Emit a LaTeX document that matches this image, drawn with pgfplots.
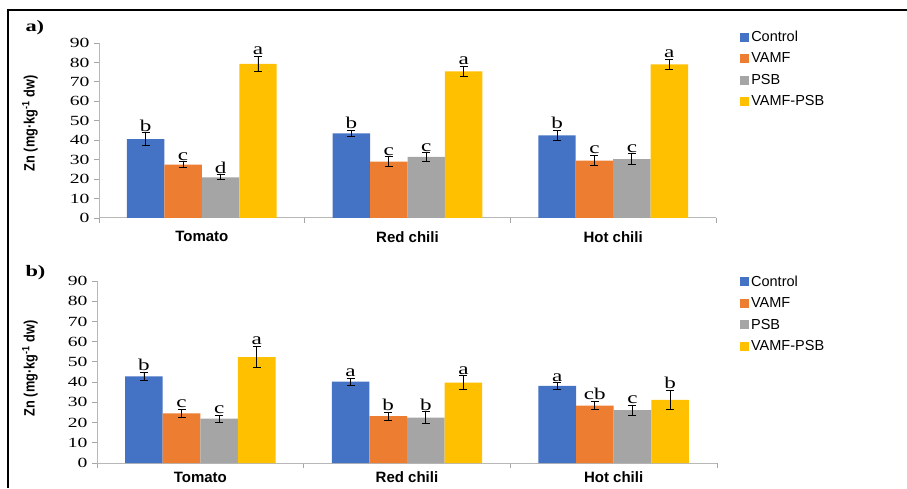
\documentclass[border=0pt]{standalone}
\usepackage{fontspec}
\setmainfont{Liberation Serif}
\setsansfont{Liberation Sans}
\newfontfamily\wserif[FakeStretch=1.4]{Liberation Serif}
\newfontfamily\nsans[FakeStretch=0.85]{Liberation Sans}
\usepackage{pgfplots}
\usepackage{pgfplotstable}
\pgfplotsset{compat=1.18}
\definecolor{cCtrl}{HTML}{4472C4}
\definecolor{cVamf}{HTML}{ED7D31}
\definecolor{cPsb}{HTML}{A5A5A5}
\definecolor{cBoth}{HTML}{FFC000}

% Panel a
\pgfplotstableread{
x y e l
0 40.6 3.3 b
1 43.5 1.5 b
2 42.5 2.5 b
}\aCtrl
\pgfplotstableread{
x y e l
0 27.4 1.5 c
1 29.0 2.5 c
2 29.5 2.7 c
}\aVamf
\pgfplotstableread{
x y e l
0 20.9 1.3 d
1 31.4 2.1 c
2 30.3 2.7 c
}\aPsb
\pgfplotstableread{
x y e l
0 79.2 3.9 a
1 75.4 2.7 a
2 79.0 2.7 a
}\aBoth
% Panel b
\pgfplotstableread{
x y e l
0 42.9 2.0 b
1 40.2 1.7 a
2 38.1 1.6 a
}\bCtrl
\pgfplotstableread{
x y e l
0 24.6 2.0 c
1 23.2 1.9 b
2 28.4 2.0 cb
}\bVamf
\pgfplotstableread{
x y e l
0 22.0 1.7 c
1 22.5 2.9 b
2 26.1 2.5 c
}\bPsb
\pgfplotstableread{
x y e l
0 52.4 5.2 a
1 39.7 3.5 a
2 31.2 4.7 b
}\bBoth

\pgfplotsset{
  zbar/.style={
    scale only axis, anchor=south west,
    xmin=-0.5, xmax=2.5, ymin=0, ymax=90,
    ytick={0,10,...,90},
    xtick={-0.5,0.5,1.5,2.5}, xticklabels={,,,},
    extra x ticks={0,1,2},
    extra x tick labels={Tomato,Red chili,Hot chili},
    extra x tick style={major tick length=0pt,
      tick label style={font=\sffamily\bfseries\fontsize{15}{15}\selectfont, yshift=-10pt}},
    axis lines=left, axis line style={-, draw=black!28, line width=1pt},
    tick align=outside, major tick length=5pt,
    tick style={draw=black!35, line width=0.8pt},
    /pgf/number format/assume math mode=true,
    yticklabel style={font=\wserif\fontsize{14}{14}\selectfont, xshift=-1pt},
    ylabel={Zn (mg·kg\textsuperscript{-1} dw)},
    ylabel style={font=\nsans\bfseries\fontsize{15}{15}\selectfont, anchor=center},
    ybar=0pt, bar width=0.182,
    legend image code/.code={\fill[##1] (0pt,-4.5pt) rectangle (9pt,4.5pt);},
    legend cell align=left,
    legend style={draw=none, fill=none, anchor=north west, inner sep=0pt,
      font=\sffamily\fontsize{14.5}{16}\selectfont, row sep=5.8pt},
    clip=false,
  },
  zser/.style={
    fill=#1, draw=none,
    error bars/.cd, y dir=both, y explicit,
      error bar style={black, line width=0.8pt},
      error mark options={rotate=90, mark size=4pt, black, line width=0.8pt},
    /pgfplots/.cd,
    nodes near coords, point meta=explicit symbolic,
    visualization depends on={\thisrow{e} \as \myerr},
    every node near coord/.append style={text=black, anchor=south, inner sep=1.2pt,
      font=\wserif\fontsize{16.5}{16.5}\selectfont, shift={(axis direction cs:0,\myerr)}},
  },
}

\begin{document}
\begin{tikzpicture}[x=1pt,y=1pt]
\useasboundingbox (0,0) rectangle (907,488);
\draw[line width=2pt] (7,478) -- (907,478);
\draw[line width=2pt] (8,479) -- (8,0);
\node[anchor=west, font=\wserif\bfseries\fontsize{16}{16}\selectfont] at (22,460) {a)};
\node[anchor=west, font=\wserif\bfseries\fontsize{16}{16}\selectfont] at (22,215) {b)};

\begin{axis}[zbar, at={(99pt,270pt)}, width=617pt, height=175pt,
  ylabel style={at={(axis description cs:-0.112,0.54)}},
  legend style={at={(1.039,1.08)}}]
\addplot[zser=cCtrl] table[x=x,y=y,y error=e,meta=l]{\aCtrl};
\addlegendentry{Control}
\addplot[zser=cVamf] table[x=x,y=y,y error=e,meta=l]{\aVamf};
\addlegendentry{VAMF}
\addplot[zser=cPsb] table[x=x,y=y,y error=e,meta=l]{\aPsb};
\addlegendentry{PSB}
\addplot[zser=cBoth] table[x=x,y=y,y error=e,meta=l]{\aBoth};
\addlegendentry{VAMF-PSB}
\end{axis}

\begin{axis}[zbar, at={(97pt,25pt)}, width=620pt, height=182pt,
  extra x tick style={tick label style={yshift=4.5pt}},
  ylabel style={at={(axis description cs:-0.108,0.52)}},
  legend style={at={(1.037,1.04)}}]
\addplot[zser=cCtrl] table[x=x,y=y,y error=e,meta=l]{\bCtrl};
\addlegendentry{Control}
\addplot[zser=cVamf] table[x=x,y=y,y error=e,meta=l]{\bVamf};
\addlegendentry{VAMF}
\addplot[zser=cPsb] table[x=x,y=y,y error=e,meta=l]{\bPsb};
\addlegendentry{PSB}
\addplot[zser=cBoth] table[x=x,y=y,y error=e,meta=l]{\bBoth};
\addlegendentry{VAMF-PSB}
\end{axis}
\end{tikzpicture}
\end{document}
